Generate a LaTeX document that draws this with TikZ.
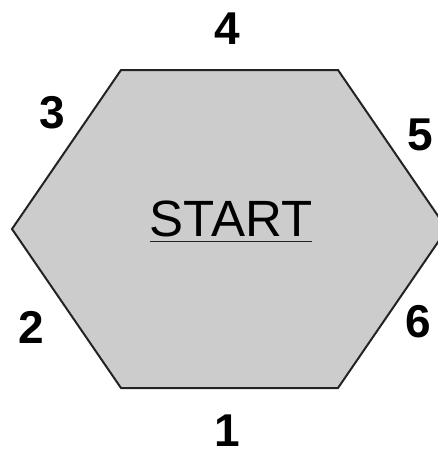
\documentclass[tikz,border=0pt]{standalone}
\usepackage{fontspec}
\setmainfont{Liberation Sans}
\usetikzlibrary{math}
\definecolor{hexgray}{RGB}{204,204,204}
\definecolor{hexline}{RGB}{35,35,35}

\tikzset{
  sidenum/.style={inner sep=0pt, font=\fontsize{46}{46}\selectfont\bfseries},
  hexedge/.style={line width=2pt, draw=hexline, fill=hexgray, line join=miter},
}

\begin{document}
\begin{tikzpicture}[x=1pt,y=-1pt]
\tikzmath{
\xl=121;
\xr=338;
\dx=109;
\yt=70;
\yb=388;
\ym=229;
}
\useasboundingbox (0,0) rectangle (437,450);

\coordinate (TL) at (\xl,\yt);
\coordinate (TR) at (\xr,\yt);
\coordinate (R) at (\xr+\dx,\ym);
\coordinate (BR) at (\xr,\yb);
\coordinate (BL) at (\xl,\yb);
\coordinate (L) at (\xl-\dx,\ym);

 \draw[hexedge] (TL) -- (TR) -- (R) -- (BR) -- (BL) -- (L) -- cycle;

 \node[inner sep=0pt, font=\fontsize{51}{51}\selectfont] (start) at (231,219) {START};
 \draw[line width=1.6pt, draw=hexline] ([yshift=-5pt]start.base west) -- ([yshift=-5pt]start.base east);

 \node[sidenum] (n1) at (227,431) {1};
 \node[sidenum] (n2) at (31,327) {2};
 \node[sidenum] (n3) at (52,113) {3};
 \node[sidenum] (n4) at (227,29) {4};
 \node[sidenum] (n5) at (420,135) {5};
 \node[sidenum] (n6) at (418,322) {6};
\end{tikzpicture}
\end{document}
